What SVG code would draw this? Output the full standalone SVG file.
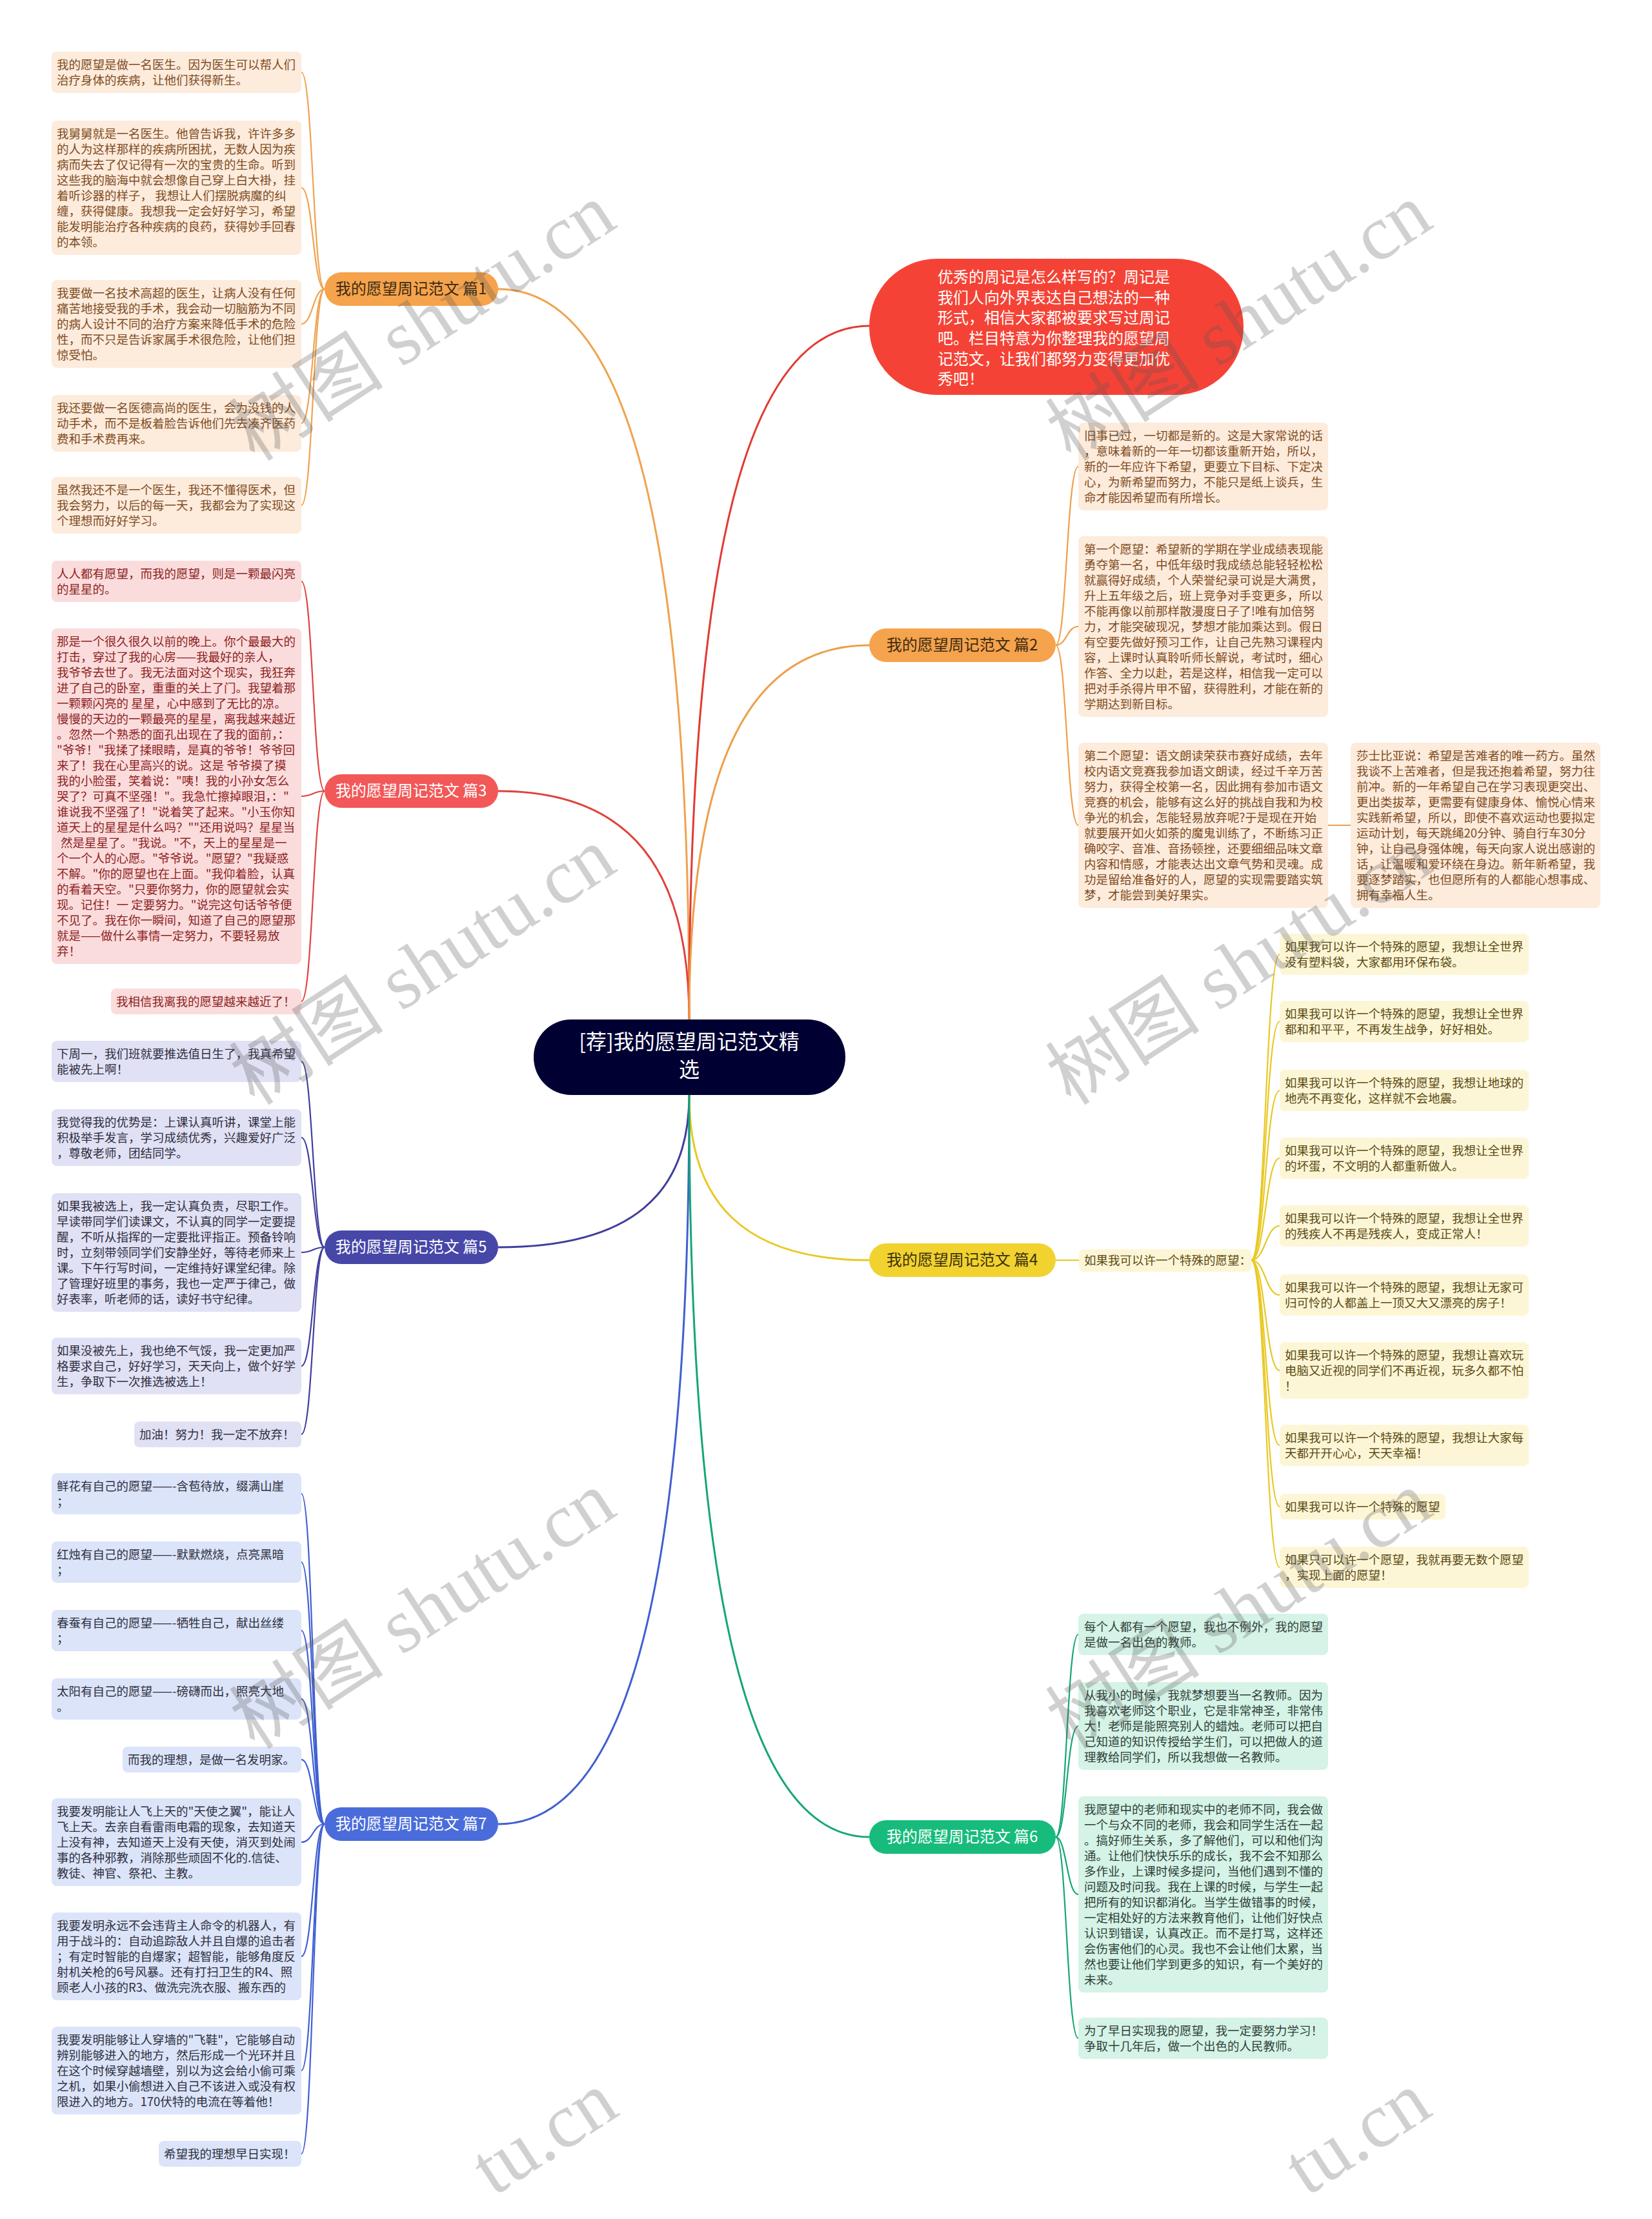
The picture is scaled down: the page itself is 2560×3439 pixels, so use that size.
<svg xmlns="http://www.w3.org/2000/svg" width="2560" height="3439" viewBox="0 0 2560 3439">
<style>
text{font-family:"Noto Sans CJK SC","Noto Sans",sans-serif}
.lf{font-size:18.5px}
.bn{font-size:24px;text-anchor:middle}
.c{fill:none;stroke-width:3}
.k{fill:none;stroke-width:2.2}
.ro{fill:#FDEBDC}.to{fill:#7E4C1E}
.rr{fill:#FBDCDC}.tr{fill:#8C1F1F}
.rp{fill:#E1E1F5}.tp{fill:#2E2E3E}
.rb{fill:#DCE4F9}.tb{fill:#2E3040}
.ry{fill:#FDF6D6}.ty{fill:#5A4A14}
.rg{fill:#D5F3E6}.tg{fill:#2F3F3A}
.wm{font-family:"Liberation Serif","Noto Sans CJK SC",serif;font-size:120px;fill:#555;fill-opacity:0.28}
</style>
<rect width="2560" height="3439" fill="#FFFFFF"/>
<g id="connectors">
<path class="c" stroke="#F0A24F" d="M1068 1580 C1068 844 979 448 772 448"/>
<path class="c" stroke="#E0423C" d="M1068 1580 C1068 1350 979 1226 772 1226"/>
<path class="c" stroke="#E23A32" d="M1068 1580 C1068 881 1152 505 1347 505"/>
<path class="c" stroke="#EE9E48" d="M1068 1580 C1068 1203 1152 1000 1347 1000"/>
<path class="c" stroke="#3E3E9C" d="M1068 1697 C1068 1850 979 1933 772 1933"/>
<path class="c" stroke="#3F5FD2" d="M1068 1697 C1068 2431 979 2827 772 2827"/>
<path class="c" stroke="#E9C823" d="M1068 1697 C1068 1863 1152 1953 1347 1953"/>
<path class="c" stroke="#16A673" d="M1068 1697 C1068 2444 1152 2847 1347 2847"/>
<g stroke="#F0A24F">
<path class="k" d="M503 448 C485 448 485 112 467 112"/>
<path class="k" d="M503 448 C485 448 485 291 467 291"/>
<path class="k" d="M503 448 C485 448 485 502 467 502"/>
<path class="k" d="M503 448 C485 448 485 656 467 656"/>
<path class="k" d="M503 448 C485 448 485 783 467 783"/>
</g>
<g stroke="#E0423C">
<path class="k" d="M503 1226 C485 1226 485 901 467 901"/>
<path class="k" d="M503 1226 C485 1226 485 1234 467 1234"/>
<path class="k" d="M503 1226 C485 1226 485 1552 467 1552"/>
</g>
<g stroke="#3E3E9C">
<path class="k" d="M503 1933 C485 1933 485 1645 467 1645"/>
<path class="k" d="M503 1933 C485 1933 485 1763 467 1763"/>
<path class="k" d="M503 1933 C485 1933 485 1941 467 1941"/>
<path class="k" d="M503 1933 C485 1933 485 2117 467 2117"/>
<path class="k" d="M503 1933 C485 1933 485 2223 467 2223"/>
</g>
<g stroke="#3F5FD2">
<path class="k" d="M503 2827 C485 2827 485 2315 467 2315"/>
<path class="k" d="M503 2827 C485 2827 485 2421 467 2421"/>
<path class="k" d="M503 2827 C485 2827 485 2527 467 2527"/>
<path class="k" d="M503 2827 C485 2827 485 2633 467 2633"/>
<path class="k" d="M503 2827 C485 2827 485 2727 467 2727"/>
<path class="k" d="M503 2827 C485 2827 485 2855 467 2855"/>
<path class="k" d="M503 2827 C485 2827 485 3032 467 3032"/>
<path class="k" d="M503 2827 C485 2827 485 3209 467 3209"/>
<path class="k" d="M503 2827 C485 2827 485 3338 467 3338"/>
</g>
<g stroke="#EE9E48">
<path class="k" d="M1636 1000 C1653 1000 1653 723 1671 723"/>
<path class="k" d="M1636 1000 C1653 1000 1653 971 1671 971"/>
<path class="k" d="M1636 1000 C1653 1000 1653 1279 1671 1279"/>
<path class="k" d="M2058 1279 L2093 1279"/>
</g>
<g stroke="#E9C823">
<path class="k" d="M1636 1953 L1672 1953"/>
<path class="k" d="M1939 1953 C1961 1953 1961 1479 1983 1479"/>
<path class="k" d="M1939 1953 C1961 1953 1961 1583 1983 1583"/>
<path class="k" d="M1939 1953 C1961 1953 1961 1690 1983 1690"/>
<path class="k" d="M1939 1953 C1961 1953 1961 1795 1983 1795"/>
<path class="k" d="M1939 1953 C1961 1953 1961 1900 1983 1900"/>
<path class="k" d="M1939 1953 C1961 1953 1961 2007 1983 2007"/>
<path class="k" d="M1939 1953 C1961 1953 1961 2124 1983 2124"/>
<path class="k" d="M1939 1953 C1961 1953 1961 2240 1983 2240"/>
<path class="k" d="M1939 1953 C1961 1953 1961 2335 1983 2335"/>
<path class="k" d="M1939 1953 C1961 1953 1961 2429 1983 2429"/>
</g>
<g stroke="#16A673">
<path class="k" d="M1636 2847 C1653 2847 1653 2533 1671 2533"/>
<path class="k" d="M1636 2847 C1653 2847 1653 2675 1671 2675"/>
<path class="k" d="M1636 2847 C1653 2847 1653 2936 1671 2936"/>
<path class="k" d="M1636 2847 C1653 2847 1653 3159 1671 3159"/>
</g>
</g>

<g id="center">
<rect x="827" y="1580" width="483" height="117" rx="58" fill="#000033"/>
<text x="1068" y="1626" font-size="32" fill="#FFFFFF" text-anchor="middle">[荐]我的愿望周记范文精</text>
<text x="1068" y="1669" font-size="32" fill="#FFFFFF" text-anchor="middle">选</text>
</g>

<g id="intro">
<rect x="1347" y="401" width="580" height="211" rx="105" fill="#F44336"/>
<text font-size="24" fill="#FFFFFF">
<tspan x="1453" y="438">优秀的周记是怎么样写的？周记是</tspan>
<tspan x="1453" y="470">我们人向外界表达自己想法的一种</tspan>
<tspan x="1453" y="501">形式，相信大家都被要求写过周记</tspan>
<tspan x="1453" y="533">吧。栏目特意为你整理我的愿望周</tspan>
<tspan x="1453" y="565">记范文，让我们都努力变得更加优</tspan>
<tspan x="1453" y="596">秀吧！</tspan>
</text>
</g>

<g id="b1">
<rect x="503" y="422" width="269" height="52" rx="26" fill="#F5A34C"/>
<text class="bn" x="637" y="456" fill="#3D2A12">我的愿望周记范文 篇1</text>
</g>
<g id="b3">
<rect x="503" y="1200" width="269" height="52" rx="26" fill="#F25858"/>
<text class="bn" x="637" y="1234" fill="#FFFFFF">我的愿望周记范文 篇3</text>
</g>
<g id="b5">
<rect x="503" y="1907" width="269" height="52" rx="26" fill="#4747A8"/>
<text class="bn" x="637" y="1941" fill="#FFFFFF">我的愿望周记范文 篇5</text>
</g>
<g id="b7">
<rect x="503" y="2801" width="269" height="52" rx="26" fill="#4A6CDB"/>
<text class="bn" x="637" y="2835" fill="#FFFFFF">我的愿望周记范文 篇7</text>
</g>
<g id="b2">
<rect x="1347" y="974" width="289" height="52" rx="26" fill="#F5A34C"/>
<text class="bn" x="1491" y="1008" fill="#3D2A12">我的愿望周记范文 篇2</text>
</g>
<g id="b4">
<rect x="1347" y="1927" width="289" height="52" rx="26" fill="#F2D22E"/>
<text class="bn" x="1491" y="1961" fill="#3A3210">我的愿望周记范文 篇4</text>
</g>
<g id="b6">
<rect x="1347" y="2821" width="289" height="52" rx="26" fill="#17BC7C"/>
<text class="bn" x="1491" y="2855" fill="#FFFFFF">我的愿望周记范文 篇6</text>
</g>

<g id="l1a"><rect class="ro" x="80" y="80" width="387" height="64" rx="8"/>
<text class="lf to"><tspan x="88" y="107">我的愿望是做一名医生。因为医生可以帮人们</tspan><tspan x="88" y="131">治疗身体的疾病，让他们获得新生。</tspan></text></g>
<g id="l1b"><rect class="ro" x="80" y="187" width="387" height="208" rx="8"/>
<text class="lf to"><tspan x="88" y="214">我舅舅就是一名医生。他曾告诉我，许许多多</tspan><tspan x="88" y="238">的人为这样那样的疾病所困扰，无数人因为疾</tspan><tspan x="88" y="262">病而失去了仅记得有一次的宝贵的生命。听到</tspan><tspan x="88" y="286">这些我的脑海中就会想像自己穿上白大褂，挂</tspan><tspan x="88" y="310">着听诊器的样子， 我想让人们摆脱病魔的纠</tspan><tspan x="88" y="334">缠，获得健康。我想我一定会好好学习，希望</tspan><tspan x="88" y="358">能发明能治疗各种疾病的良药，获得妙手回春</tspan><tspan x="88" y="382">的本领。</tspan></text></g>
<g id="l1c"><rect class="ro" x="80" y="434" width="387" height="136" rx="8"/>
<text class="lf to"><tspan x="88" y="461">我要做一名技术高超的医生，让病人没有任何</tspan><tspan x="88" y="485">痛苦地接受我的手术，我会动一切脑筋为不同</tspan><tspan x="88" y="509">的病人设计不同的治疗方案来降低手术的危险</tspan><tspan x="88" y="533">性，而不只是告诉家属手术很危险，让他们担</tspan><tspan x="88" y="557">惊受怕。</tspan></text></g>
<g id="l1d"><rect class="ro" x="80" y="612" width="387" height="88" rx="8"/>
<text class="lf to"><tspan x="88" y="639">我还要做一名医德高尚的医生，会为没钱的人</tspan><tspan x="88" y="663">动手术，而不是板着脸告诉他们先去凑齐医药</tspan><tspan x="88" y="687">费和手术费再来。</tspan></text></g>
<g id="l1e"><rect class="ro" x="80" y="739" width="387" height="88" rx="8"/>
<text class="lf to"><tspan x="88" y="766">虽然我还不是一个医生，我还不懂得医术，但</tspan><tspan x="88" y="790">我会努力，以后的每一天，我都会为了实现这</tspan><tspan x="88" y="814">个理想而好好学习。</tspan></text></g>

<g id="l3a"><rect class="rr" x="80" y="869" width="387" height="64" rx="8"/>
<text class="lf tr"><tspan x="88" y="896">人人都有愿望，而我的愿望，则是一颗最闪亮</tspan><tspan x="88" y="920">的星星的。</tspan></text></g>
<g id="l3b"><rect class="rr" x="80" y="974" width="387" height="520" rx="8"/>
<text class="lf tr"><tspan x="88" y="1001">那是一个很久很久以前的晚上。你个最最大的</tspan><tspan x="88" y="1025">打击，穿过了我的心房——我最好的亲人，</tspan><tspan x="88" y="1049">我爷爷去世了。我无法面对这个现实，我狂奔</tspan><tspan x="88" y="1073">进了自己的卧室，重重的关上了门。我望着那</tspan><tspan x="88" y="1097">一颗颗闪亮的 星星，心中感到了无比的凉。</tspan><tspan x="88" y="1121">慢慢的天边的一颗最亮的星星，离我越来越近</tspan><tspan x="88" y="1145">。忽然一个熟悉的面孔出现在了我的面前，：</tspan><tspan x="88" y="1169">"爷爷！"我揉了揉眼睛，是真的爷爷！爷爷回</tspan><tspan x="88" y="1193">来了！我在心里高兴的说。这是 爷爷摸了摸</tspan><tspan x="88" y="1217">我的小脸蛋，笑着说："咦！我的小孙女怎么</tspan><tspan x="88" y="1241">哭了？可真不坚强！"。我急忙擦掉眼泪，："</tspan><tspan x="88" y="1265">谁说我不坚强了！"说着笑了起来。"小玉你知</tspan><tspan x="88" y="1289">道天上的星星是什么吗？""还用说吗？星星当</tspan><tspan x="94" y="1313">然是星星了。"我说。"不，天上的星星是一</tspan><tspan x="88" y="1337">个一个人的心愿。"爷爷说。"愿望？"我疑惑</tspan><tspan x="88" y="1361">不解。"你的愿望也在上面。"我仰着脸，认真</tspan><tspan x="88" y="1385">的看着天空。"只要你努力，你的愿望就会实</tspan><tspan x="88" y="1409">现。记住！一 定要努力。"说完这句话爷爷便</tspan><tspan x="88" y="1433">不见了。我在你一瞬间，知道了自己的愿望那</tspan><tspan x="88" y="1457">就是——做什么事情一定努力，不要轻易放</tspan><tspan x="88" y="1481">弃！</tspan></text></g>
<g id="l3c"><rect class="rr" x="172" y="1532" width="295" height="40" rx="8"/>
<text class="lf tr" x="180" y="1559">我相信我离我的愿望越来越近了！</text></g>

<g id="l5a"><rect class="rp" x="80" y="1613" width="387" height="64" rx="8"/>
<text class="lf tp"><tspan x="88" y="1640">下周一，我们班就要推选值日生了，我真希望</tspan><tspan x="88" y="1664">能被先上啊！</tspan></text></g>
<g id="l5b"><rect class="rp" x="80" y="1719" width="387" height="88" rx="8"/>
<text class="lf tp"><tspan x="88" y="1746">我觉得我的优势是：上课认真听讲，课堂上能</tspan><tspan x="88" y="1770">积极举手发言，学习成绩优秀，兴趣爱好广泛</tspan><tspan x="88" y="1794">，尊敬老师，团结同学。</tspan></text></g>
<g id="l5c"><rect class="rp" x="80" y="1849" width="387" height="184" rx="8"/>
<text class="lf tp"><tspan x="88" y="1876">如果我被选上，我一定认真负责，尽职工作。</tspan><tspan x="88" y="1900">早读带同学们读课文，不认真的同学一定要提</tspan><tspan x="88" y="1924">醒，不听从指挥的一定要批评指正。预备铃响</tspan><tspan x="88" y="1948">时，立刻带领同学们安静坐好，等待老师来上</tspan><tspan x="88" y="1972">课。下午行写时间，一定维持好课堂纪律。除</tspan><tspan x="88" y="1996">了管理好班里的事务，我也一定严于律己，做</tspan><tspan x="88" y="2020">好表率，听老师的话，读好书守纪律。</tspan></text></g>
<g id="l5d"><rect class="rp" x="80" y="2073" width="387" height="88" rx="8"/>
<text class="lf tp"><tspan x="88" y="2100">如果没被先上，我也绝不气馁，我一定更加严</tspan><tspan x="88" y="2124">格要求自己，好好学习，天天向上，做个好学</tspan><tspan x="88" y="2148">生，争取下一次推选被选上！</tspan></text></g>
<g id="l5e"><rect class="rp" x="208" y="2203" width="259" height="40" rx="8"/>
<text class="lf tp" x="216" y="2230">加油！努力！我一定不放弃！</text></g>

<g id="l7a"><rect class="rb" x="80" y="2283" width="387" height="64" rx="8"/>
<text class="lf tb"><tspan x="88" y="2310">鲜花有自己的愿望——-含苞待放，缀满山崖</tspan><tspan x="88" y="2334">；</tspan></text></g>
<g id="l7b"><rect class="rb" x="80" y="2389" width="387" height="64" rx="8"/>
<text class="lf tb"><tspan x="88" y="2416">红烛有自己的愿望——-默默燃烧，点亮黑暗</tspan><tspan x="88" y="2440">；</tspan></text></g>
<g id="l7c"><rect class="rb" x="80" y="2495" width="387" height="64" rx="8"/>
<text class="lf tb"><tspan x="88" y="2522">春蚕有自己的愿望——-牺牲自己，献出丝缕</tspan><tspan x="88" y="2546">；</tspan></text></g>
<g id="l7d"><rect class="rb" x="80" y="2601" width="387" height="64" rx="8"/>
<text class="lf tb"><tspan x="88" y="2628">太阳有自己的愿望——-磅礴而出，照亮大地</tspan><tspan x="88" y="2652">。</tspan></text></g>
<g id="l7e"><rect class="rb" x="190" y="2707" width="277" height="40" rx="8"/>
<text class="lf tb" x="198" y="2734">而我的理想，是做一名发明家。</text></g>
<g id="l7f"><rect class="rb" x="80" y="2787" width="387" height="136" rx="8"/>
<text class="lf tb"><tspan x="88" y="2814">我要发明能让人飞上天的"天使之翼"，能让人</tspan><tspan x="88" y="2838">飞上天。去亲自看雷雨电霜的现象，去知道天</tspan><tspan x="88" y="2862">上没有神，去知道天上没有天使，消灭到处闹</tspan><tspan x="88" y="2886">事的各种邪教，消除那些顽固不化的.信徒、</tspan><tspan x="88" y="2910">教徒、神官、祭祀、主教。</tspan></text></g>
<g id="l7g"><rect class="rb" x="80" y="2964" width="387" height="136" rx="8"/>
<text class="lf tb"><tspan x="88" y="2991">我要发明永远不会违背主人命令的机器人，有</tspan><tspan x="88" y="3015">用于战斗的：自动追踪敌人并且自爆的追击者</tspan><tspan x="88" y="3039">；有定时智能的自爆家；超智能，能够角度反</tspan><tspan x="88" y="3063">射机关枪的6号风暴。还有打扫卫生的R4、照</tspan><tspan x="88" y="3087">顾老人小孩的R3、做洗完洗衣服、搬东西的</tspan></text></g>
<g id="l7h"><rect class="rb" x="80" y="3141" width="387" height="136" rx="8"/>
<text class="lf tb"><tspan x="88" y="3168">我要发明能够让人穿墙的"飞鞋"，它能够自动</tspan><tspan x="88" y="3192">辨别能够进入的地方，然后形成一个光环并且</tspan><tspan x="88" y="3216">在这个时候穿越墙壁，别以为这会给小偷可乘</tspan><tspan x="88" y="3240">之机，如果小偷想进入自己不该进入或没有权</tspan><tspan x="88" y="3264">限进入的地方。170伏特的电流在等着他！</tspan></text></g>
<g id="l7i"><rect class="rb" x="246" y="3318" width="221" height="40" rx="8"/>
<text class="lf tb" x="254" y="3345">希望我的理想早日实现！</text></g>

<g id="l2a"><rect class="ro" x="1671" y="655" width="387" height="136" rx="8"/>
<text class="lf to"><tspan x="1680" y="682">旧事已过，一切都是新的。这是大家常说的话</tspan><tspan x="1680" y="706">，意味着新的一年一切都该重新开始，所以，</tspan><tspan x="1680" y="730">新的一年应许下希望，更要立下目标、下定决</tspan><tspan x="1680" y="754">心，为新希望而努力，不能只是纸上谈兵，生</tspan><tspan x="1680" y="778">命才能因希望而有所增长。</tspan></text></g>
<g id="l2b"><rect class="ro" x="1671" y="831" width="387" height="280" rx="8"/>
<text class="lf to"><tspan x="1680" y="858">第一个愿望：希望新的学期在学业成绩表现能</tspan><tspan x="1680" y="882">勇夺第一名，中低年级时我成绩总能轻轻松松</tspan><tspan x="1680" y="906">就赢得好成绩，个人荣誉纪录可说是大满贯，</tspan><tspan x="1680" y="930">升上五年级之后，班上竞争对手变更多，所以</tspan><tspan x="1680" y="954">不能再像以前那样散漫度日子了!唯有加倍努</tspan><tspan x="1680" y="978">力，才能突破现况，梦想才能加乘达到。假日</tspan><tspan x="1680" y="1002">有空要先做好预习工作，让自己先熟习课程内</tspan><tspan x="1680" y="1026">容，上课时认真聆听师长解说，考试时，细心</tspan><tspan x="1680" y="1050">作答、全力以赴，若是这样，相信我一定可以</tspan><tspan x="1680" y="1074">把对手杀得片甲不留，获得胜利，才能在新的</tspan><tspan x="1680" y="1098">学期达到新目标。</tspan></text></g>
<g id="l2c"><rect class="ro" x="1671" y="1151" width="387" height="256" rx="8"/>
<text class="lf to"><tspan x="1680" y="1178">第二个愿望：语文朗读荣获市赛好成绩，去年</tspan><tspan x="1680" y="1202">校内语文竞赛我参加语文朗读，经过千辛万苦</tspan><tspan x="1680" y="1226">努力，获得全校第一名，因此拥有参加市语文</tspan><tspan x="1680" y="1250">竞赛的机会，能够有这么好的挑战自我和为校</tspan><tspan x="1680" y="1274">争光的机会，怎能轻易放弃呢?于是现在开始</tspan><tspan x="1680" y="1298">就要展开如火如荼的魔鬼训练了，不断练习正</tspan><tspan x="1680" y="1322">确咬字、音准、音扬顿挫，还要细细品味文章</tspan><tspan x="1680" y="1346">内容和情感，才能表达出文章气势和灵魂。成</tspan><tspan x="1680" y="1370">功是留给准备好的人，愿望的实现需要踏实筑</tspan><tspan x="1680" y="1394">梦，才能尝到美好果实。</tspan></text></g>
<g id="l2d"><rect class="ro" x="2093" y="1151" width="387" height="256" rx="8"/>
<text class="lf to"><tspan x="2102" y="1178">莎士比亚说：希望是苦难者的唯一药方。虽然</tspan><tspan x="2102" y="1202">我谈不上苦难者，但是我还抱着希望，努力往</tspan><tspan x="2102" y="1226">前冲。新的一年希望自己在学习表现更突出、</tspan><tspan x="2102" y="1250">更出类拔萃，更需要有健康身体、愉悦心情来</tspan><tspan x="2102" y="1274">实践新希望，所以，即使不喜欢运动也要拟定</tspan><tspan x="2102" y="1298">运动计划，每天跳绳20分钟、骑自行车30分</tspan><tspan x="2102" y="1322">钟，让自己身强体魄，每天向家人说出感谢的</tspan><tspan x="2102" y="1346">话，让温暖和爱环绕在身边。新年新希望，我</tspan><tspan x="2102" y="1370">要逐梦踏实，也但愿所有的人都能心想事成、</tspan><tspan x="2102" y="1394">拥有幸福人生。</tspan></text></g>

<g id="l4m"><rect class="ry" x="1672" y="1936" width="267" height="35" rx="8"/>
<text class="lf ty" x="1680" y="1960">如果我可以许一个特殊的愿望：</text></g>
<g id="l4-1"><rect class="ry" x="1983" y="1447" width="386" height="64" rx="8"/>
<text class="lf ty"><tspan x="1991" y="1474">如果我可以许一个特殊的愿望，我想让全世界</tspan><tspan x="1991" y="1498">没有塑料袋，大家都用环保布袋。</tspan></text></g>
<g id="l4-2"><rect class="ry" x="1983" y="1551" width="386" height="64" rx="8"/>
<text class="lf ty"><tspan x="1991" y="1578">如果我可以许一个特殊的愿望，我想让全世界</tspan><tspan x="1991" y="1602">都和和平平，不再发生战争，好好相处。</tspan></text></g>
<g id="l4-3"><rect class="ry" x="1983" y="1658" width="386" height="64" rx="8"/>
<text class="lf ty"><tspan x="1991" y="1685">如果我可以许一个特殊的愿望，我想让地球的</tspan><tspan x="1991" y="1709">地壳不再变化，这样就不会地震。</tspan></text></g>
<g id="l4-4"><rect class="ry" x="1983" y="1763" width="386" height="64" rx="8"/>
<text class="lf ty"><tspan x="1991" y="1790">如果我可以许一个特殊的愿望，我想让全世界</tspan><tspan x="1991" y="1814">的坏蛋，不文明的人都重新做人。</tspan></text></g>
<g id="l4-5"><rect class="ry" x="1983" y="1868" width="386" height="64" rx="8"/>
<text class="lf ty"><tspan x="1991" y="1895">如果我可以许一个特殊的愿望，我想让全世界</tspan><tspan x="1991" y="1919">的残疾人不再是残疾人，变成正常人！</tspan></text></g>
<g id="l4-6"><rect class="ry" x="1983" y="1975" width="386" height="64" rx="8"/>
<text class="lf ty"><tspan x="1991" y="2002">如果我可以许一个特殊的愿望，我想让无家可</tspan><tspan x="1991" y="2026">归可怜的人都盖上一顶又大又漂亮的房子！</tspan></text></g>
<g id="l4-7"><rect class="ry" x="1983" y="2080" width="386" height="88" rx="8"/>
<text class="lf ty"><tspan x="1991" y="2107">如果我可以许一个特殊的愿望，我想让喜欢玩</tspan><tspan x="1991" y="2131">电脑又近视的同学们不再近视，玩多久都不怕</tspan><tspan x="1991" y="2155">！</tspan></text></g>
<g id="l4-8"><rect class="ry" x="1983" y="2208" width="386" height="64" rx="8"/>
<text class="lf ty"><tspan x="1991" y="2235">如果我可以许一个特殊的愿望，我想让大家每</tspan><tspan x="1991" y="2259">天都开开心心，天天幸福！</tspan></text></g>
<g id="l4-9"><rect class="ry" x="1983" y="2315" width="257" height="40" rx="8"/>
<text class="lf ty" x="1991" y="2342">如果我可以许一个特殊的愿望</text></g>
<g id="l4-10"><rect class="ry" x="1983" y="2397" width="386" height="64" rx="8"/>
<text class="lf ty"><tspan x="1991" y="2424">如果只可以许一个愿望，我就再要无数个愿望</tspan><tspan x="1991" y="2448">，实现上面的愿望！</tspan></text></g>

<g id="l6a"><rect class="rg" x="1671" y="2501" width="387" height="64" rx="8"/>
<text class="lf tg"><tspan x="1680" y="2528">每个人都有一个愿望，我也不例外，我的愿望</tspan><tspan x="1680" y="2552">是做一名出色的教师。</tspan></text></g>
<g id="l6b"><rect class="rg" x="1671" y="2607" width="387" height="136" rx="8"/>
<text class="lf tg"><tspan x="1680" y="2634">从我小的时候，我就梦想要当一名教师。因为</tspan><tspan x="1680" y="2658">我喜欢老师这个职业，它是非常神圣，非常伟</tspan><tspan x="1680" y="2682">大！老师是能照亮别人的蜡烛。老师可以把自</tspan><tspan x="1680" y="2706">己知道的知识传授给学生们，可以把做人的道</tspan><tspan x="1680" y="2730">理教给同学们，所以我想做一名教师。</tspan></text></g>
<g id="l6c"><rect class="rg" x="1671" y="2784" width="387" height="304" rx="8"/>
<text class="lf tg"><tspan x="1680" y="2811">我愿望中的老师和现实中的老师不同，我会做</tspan><tspan x="1680" y="2835">一个与众不同的老师，我会和同学生活在一起</tspan><tspan x="1680" y="2859">。搞好师生关系，多了解他们，可以和他们沟</tspan><tspan x="1680" y="2883">通。让他们快快乐乐的成长，我不会不知那么</tspan><tspan x="1680" y="2907">多作业，上课时候多提问，当他们遇到不懂的</tspan><tspan x="1680" y="2931">问题及时问我。我在上课的时候，与学生一起</tspan><tspan x="1680" y="2955">把所有的知识都消化。当学生做错事的时候，</tspan><tspan x="1680" y="2979">一定相处好的方法来教育他们，让他们好快点</tspan><tspan x="1680" y="3003">认识到错误，认真改正。而不是打骂，这样还</tspan><tspan x="1680" y="3027">会伤害他们的心灵。我也不会让他们太累，当</tspan><tspan x="1680" y="3051">然也要让他们学到更多的知识，有一个美好的</tspan><tspan x="1680" y="3075">未来。</tspan></text></g>
<g id="l6d"><rect class="rg" x="1671" y="3127" width="387" height="64" rx="8"/>
<text class="lf tg"><tspan x="1680" y="3154">为了早日实现我的愿望，我一定要努力学习！</tspan><tspan x="1680" y="3178">争取十几年后，做一个出色的人民教师。</tspan></text></g>

<g id="watermarks">
<text class="wm" transform="translate(395 717) rotate(-33)">树图 shutu.cn</text>
<text class="wm" transform="translate(395 1715) rotate(-33)">树图 shutu.cn</text>
<text class="wm" transform="translate(395 2713) rotate(-33)">树图 shutu.cn</text>
<text class="wm" transform="translate(765 3405) rotate(-33)">tu.cn</text>
<text class="wm" transform="translate(1660 717) rotate(-33)">树图 shutu.cn</text>
<text class="wm" transform="translate(1660 1715) rotate(-33)">树图 shutu.cn</text>
<text class="wm" transform="translate(1660 2713) rotate(-33)">树图 shutu.cn</text>
<text class="wm" transform="translate(2025 3405) rotate(-33)">tu.cn</text>
</g>
</svg>
